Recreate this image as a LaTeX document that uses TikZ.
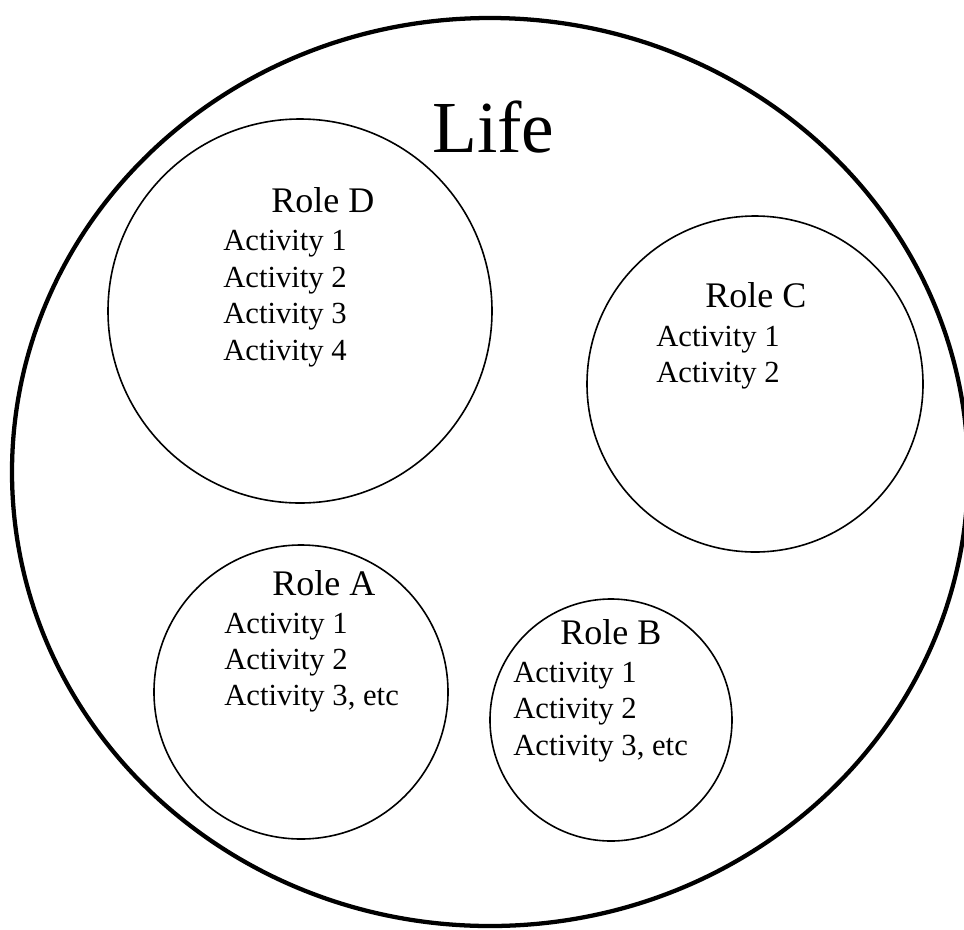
\documentclass[tikz,border=0pt]{standalone}
\usepackage{fontspec}
\setmainfont{Liberation Serif}
\usetikzlibrary{positioning}

\begin{document}
\begin{tikzpicture}[x=0.75pt,y=-0.75pt,
    rolecircle/.style={circle,draw=black,line width=1.2pt,inner sep=0pt},
    rolename/.style={anchor=base west,inner sep=0pt,font=\fontsize{27}{32}\selectfont},
    activity/.style={anchor=base west,inner sep=0pt,font=\fontsize{23}{27.5}\selectfont},
   ]

    \useasboundingbox (0,0) rectangle (964,929);
    \clip (0,0) rectangle (964,929);

    % the whole life
    \draw[line width=3.2pt] (490,472) ellipse [x radius=478, y radius=454];
    \node (life) [anchor=base west,inner sep=0pt,font=\fontsize{55}{60}\selectfont] at (432,152) {Life};

    % roles
    \node (roleD) [rolecircle,minimum size=288pt] at (300,311) {};
    \node (roleC) [rolecircle,minimum size=252pt] at (755,384) {};
    \node (roleA) [rolecircle,minimum size=220.5pt] at (301,692) {};
    \node (roleB) [rolecircle,minimum size=181.5pt] at (611,720) {};

    % role D
    \node (nameD) [rolename] at (271,212) {Role D};
    \node (actD1) [activity] at (223,250) {Activity 1};
    \node (actD2) [activity] at (223,287) {Activity 2};
    \node (actD3) [activity] at (223,323) {Activity 3};
    \node (actD4) [activity] at (223,360) {Activity 4};

    % role C
    \node (nameC) [rolename] at (705,307) {Role C};
    \node (actC1) [activity] at (656,346) {Activity 1};
    \node (actC2) [activity] at (656,382) {Activity 2};

    % role A
    \node (nameA) [rolename] at (272,595) {Role A};
    \node (actA1) [activity] at (224,633) {Activity 1};
    \node (actA2) [activity] at (224,669) {Activity 2};
    \node (actA3) [activity] at (224,705) {Activity 3, etc};

    % role B
    \node (nameB) [rolename] at (560,644) {Role B};
    \node (actB1) [activity] at (513,682) {Activity 1};
    \node (actB2) [activity] at (513,718) {Activity 2};
    \node (actB3) [activity] at (513,755) {Activity 3, etc};
  \end{tikzpicture}
\end{document}
